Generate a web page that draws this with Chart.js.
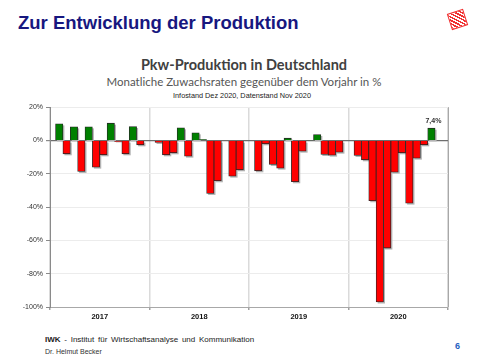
<!DOCTYPE html>
<html>
<head>
<meta charset="utf-8">
<script src="https://cdn.jsdelivr.net/npm/chart.js@4"></script>
<style>
  html, body { margin: 0; padding: 0; background: #fff; }
  body { width: 480px; height: 360px; position: relative; overflow: hidden; font-family: "Liberation Sans", Arial, sans-serif; }
  .abs { position: absolute; line-height: 1; white-space: nowrap; }
  #kopf { left: 18px; top: 13.6px; font-size: 18.5px; font-weight: bold; color: #17177f; }
  #titel { left: 0; width: 488px; text-align: center; top: 57.8px; font-family: Lato, sans-serif; font-weight: bold; font-size: 14.5px; color: #404040; }
  #untertitel { left: 0; width: 488px; text-align: center; top: 75.8px; font-family: Lato, sans-serif; font-size: 11.5px; color: #555; }
  #info { left: 0; width: 484px; text-align: center; top: 91.8px; font-size: 7.3px; color: #222; }
  #fuss1 { left: 45px; top: 336px; font-size: 8px; color: #222; word-spacing: 1.5px; }
  #fuss2 { left: 45px; top: 348px; font-size: 7px; color: #333; }
  #seite { left: 455px; top: 341.5px; font-size: 9px; font-weight: bold; color: #1f5fbf; }
  #logo { left: 449px; top: 11px; width: 15px; height: 15px; transform: rotate(-18deg);
          background: repeating-linear-gradient(45deg, #f03030 0 1.5px, #fff 1.5px 3px); border: 1px solid #f03030; }
  #chart { position: absolute; left: 0; top: 100px; }
</style>
</head>
<body>
<div class="abs" id="kopf">Zur Entwicklung der Produktion</div>
<div class="abs" id="logo"></div>
<div class="abs" id="titel">Pkw-Produktion in Deutschland</div>
<div class="abs" id="untertitel">Monatliche Zuwachsraten gegenüber dem Vorjahr in %</div>
<div class="abs" id="info">Infostand Dez 2020, Datenstand Nov 2020</div>
<canvas id="chart" width="460" height="225"></canvas>
<div class="abs" id="fuss1"><b>IWK</b> - Institut für Wirtschaftsanalyse und Kommunikation</div>
<div class="abs" id="fuss2">Dr. Helmut Becker</div>
<div class="abs" id="seite">6</div>

<script>
// Monatliche Zuwachsraten (%) gegenüber Vorjahr
const jahre = ['2017', '2018', '2019', '2020'];
const werte2017 = [10, -8, 8.2, -18.6, 8.2, -16, -8.6, 10.4, -0.6, -8, 8.4, -2.6];
const werte2018 = [-1.2, -8.6, -7.4, 7.6, -9.4, 4.6, 0.5, -31.8, -24.2, null, -21.4, -17.6];
const werte2019 = [-18.2, -2, -14.4, -16.6, 1.4, -24.8, -6.4, 0.3, 3.6, -8.4, -8.8, -7];
const werte2020 = [-9, -11.6, -36.2, -97, -64.6, -19, -7.4, -37.6, -10.6, -2.6, 7.4];
const letzterWertLabel = '7,4%';
const yTicks = [20, 0, -20, -40, -60, -80, -100];

// Achsenaufteilung: jedes Jahr 13,5 Slots (12 Monate + Rand)
const SLOTS_JAHR = 13.5;
const RAND = 1.25;
const alleJahre = [werte2017, werte2018, werte2019, werte2020];
const punkte = [];
alleJahre.forEach((arr, j) => {
  arr.forEach((v, m) => {
    punkte.push({ x: j * SLOTS_JAHR + RAND + m, y: v });
  });
});
const grenzen = [0, 1, 2, 3, 4].map(j => j * SLOTS_JAHR);
const mitten = jahre.map((_, j) => j * SLOTS_JAHR + SLOTS_JAHR / 2);
const xTicks = grenzen.concat(mitten).sort((a, b) => a - b);

// Schatten hinter den Balken
const schattenPlugin = {
  id: 'schatten',
  beforeDatasetsDraw(chart) {
    const ctx = chart.ctx;
    const meta = chart.getDatasetMeta(0);
    ctx.save();
    ctx.fillStyle = '#b4b4b4';
    meta.data.forEach(el => {
      if (el.skip) return;
      const p = el.getProps(['x', 'y', 'base', 'width'], true);
      const top = Math.min(p.y, p.base);
      const h = Math.abs(p.base - p.y);
      ctx.fillRect(p.x - p.width / 2 + 1.5, top + 1.5, p.width, h);
    });
    ctx.restore();
  }
};

// Rahmen rechts + Wertlabel am letzten Balken
const rahmenPlugin = {
  id: 'rahmen',
  afterDatasetsDraw(chart) {
    const ctx = chart.ctx;
    const a = chart.chartArea;
    ctx.save();
    ctx.strokeStyle = '#a8a8a8';
    ctx.lineWidth = 1;
    ctx.beginPath();
    ctx.moveTo(a.right + 0.5, a.top);
    ctx.lineTo(a.right + 0.5, a.bottom);
    ctx.stroke();

    const meta = chart.getDatasetMeta(0);
    const el = meta.data[meta.data.length - 1];
    const p = el.getProps(['x', 'y'], true);
    ctx.fillStyle = '#333';
    ctx.font = 'bold 7px "Liberation Sans", Arial, sans-serif';
    ctx.textAlign = 'center';
    ctx.textBaseline = 'alphabetic';
    ctx.fillText(letzterWertLabel, p.x + 2, p.y - 5);
    ctx.restore();
  }
};

new Chart(document.getElementById('chart'), {
  type: 'bar',
  data: {
    datasets: [{
      data: punkte,
      backgroundColor: c => (c.raw && c.raw.y >= 0 ? '#008000' : '#ff0000'),
      borderColor: '#262626',
      borderWidth: 0.8,
      barPercentage: 1,
      categoryPercentage: 1
    }]
  },
  options: {
    responsive: false,
    animation: false,
    devicePixelRatio: 1,
    layout: { padding: { top: 6, right: 12, left: 0, bottom: 0 } },
    plugins: {
      legend: { display: false },
      tooltip: { enabled: false }
    },
    scales: {
      x: {
        type: 'linear',
        min: 0,
        max: grenzen[grenzen.length - 1],
        offset: false,
        afterBuildTicks: s => { s.ticks = xTicks.map(v => ({ value: v })); },
        afterFit: s => { s.height = 18; },
        grid: {
          offset: false,
          color: c => (c.tick && grenzen.includes(c.tick.value) ? '#dadada' : 'rgba(0,0,0,0)'),
          tickColor: c => (c.tick && grenzen.includes(c.tick.value) ? '#a0a0a0' : 'rgba(0,0,0,0)'),
          lineWidth: 1.5,
          tickLength: 3
        },
        border: { display: true, color: '#a8a8a8', width: 1 },
        ticks: {
          autoSkip: false,
          maxRotation: 0,
          padding: 2,
          color: '#111',
          font: { family: '"Liberation Sans", Arial, sans-serif', size: 7.5, weight: 'bold' },
          callback: v => {
            const i = mitten.indexOf(v);
            return i >= 0 ? jahre[i] : '';
          }
        }
      },
      y: {
        min: -100,
        max: 20,
        afterBuildTicks: s => { s.ticks = yTicks.map(v => ({ value: v })); },
        afterFit: s => { s.width = 50; },
        grid: {
          color: c => (c.tick && c.tick.value === 0 ? '#6e6e6e' : '#ececec'),
          tickColor: '#8a8a8a',
          tickLength: 4,
          lineWidth: c => (c.tick && c.tick.value === 0 ? 1.2 : 1)
        },
        border: { display: true, color: '#8a8a8a', width: 1 },
        ticks: {
          padding: 3,
          color: '#333',
          font: { family: '"Liberation Sans", Arial, sans-serif', size: 7 },
          callback: v => v + '%'
        }
      }
    }
  },
  plugins: [schattenPlugin, rahmenPlugin]
});
</script>
</body>
</html>
